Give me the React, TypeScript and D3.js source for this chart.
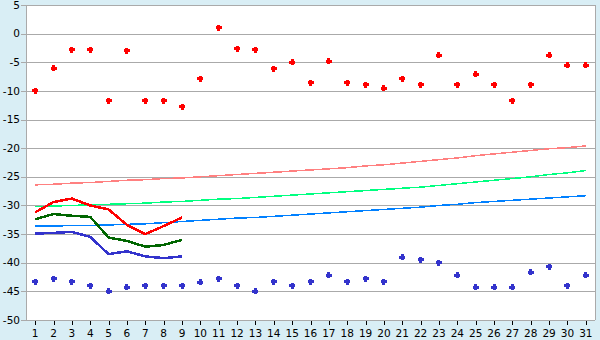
import React from "react";
import * as d3 from "d3";

const days = d3.range(1, 32).map(String);
const yTicks = [5, 0, -5, -10, -15, -20, -25, -30, -35, -40, -45, -50];

const redPoints = [-10, -6.0, -2.8, -2.8, -11.7, -3.0, -11.7, -11.7, -12.8, -7.9, 1.0, -2.6, -2.8, -6.1, -5.0, -8.6, -4.8, -8.6, -8.9, -9.5, -7.9, -8.9, -3.8, -8.9, -7.1, -8.9, -11.7, -8.9, -3.8, -5.5, -5.5];
const bluePoints = [-43.3, -42.8, -43.3, -44.0, -45.0, -44.3, -44.0, -44.0, -44.0, -43.4, -42.8, -44.0, -45.0, -43.3, -44.0, -43.3, -42.2, -43.3, -42.8, -43.3, -39.0, -39.5, -40.0, -42.2, -44.3, -44.3, -44.3, -41.7, -40.7, -44.0, -42.2];

const pinkLine = [-26.4, -26.3, -26.1, -26.0, -25.8, -25.6, -25.5, -25.3, -25.2, -25.0, -24.8, -24.6, -24.4, -24.2, -24.0, -23.8, -23.6, -23.4, -23.1, -22.9, -22.6, -22.3, -22.0, -21.7, -21.3, -21.0, -20.7, -20.4, -20.1, -19.9, -19.6];
const lightGreenLine = [-30.2, -30.1, -30.0, -29.9, -29.8, -29.7, -29.6, -29.4, -29.3, -29.1, -28.9, -28.8, -28.6, -28.4, -28.2, -28.0, -27.8, -27.6, -27.4, -27.2, -27.0, -26.8, -26.5, -26.2, -25.9, -25.6, -25.3, -25.0, -24.6, -24.3, -23.9];
const lightBlueLine = [-33.6, -33.6, -33.5, -33.5, -33.4, -33.3, -33.2, -33.0, -32.8, -32.6, -32.4, -32.2, -32.1, -31.9, -31.7, -31.5, -31.3, -31.1, -30.9, -30.7, -30.5, -30.3, -30.0, -29.8, -29.5, -29.3, -29.1, -28.9, -28.7, -28.5, -28.3];

const redLine = [-31.2, -29.4, -28.8, -30.0, -30.7, -33.4, -35.0, -33.6, -32.1];
const darkGreenLine = [-32.4, -31.5, -31.8, -32.0, -35.6, -36.2, -37.2, -36.9, -36.0];
const darkBlueLine = [-34.9, -34.8, -34.6, -35.5, -38.5, -38.0, -38.9, -39.2, -38.9];

const W = 600;
const H = 340;
const left = 26;
const right = 595;
const top = 5;
const bottom = 320;

export default function App() {
  const x = d3.scaleBand<string>().domain(days).range([left, right]).padding(0);
  const y = d3.scaleLinear().domain([-50, 5]).range([bottom, top]);
  const cx = (i: number) => (x(days[i]) as number) + x.bandwidth() / 2;

  const line = d3
    .line<number>()
    .x((_, i) => cx(i))
    .y((d) => y(d));

  const plus = (px: number, py: number) => {
    const a = 1.5;
    const b = 3;
    return `M${px - a},${py - b}H${px + a}V${py - a}H${px + b}V${py + a}H${px + a}V${py + b}H${px - a}V${py + a}H${px - b}V${py - a}H${px - a}Z`;
  };

  const font = "'DejaVu Sans', Verdana, sans-serif";

  return (
    <svg
      width={W}
      height={H}
      style={{ position: "absolute", left: 0, top: 0, display: "block" }}
      fontFamily={font}
    >
      <rect x={0} y={0} width={W} height={H} fill="#d9eef5" />
      <rect x={left} y={top} width={right - left} height={bottom - top} fill="#ffffff" />
      {yTicks.map((t) => (
        <g key={t} shapeRendering="crispEdges">
          <line x1={left - 5} x2={right} y1={Math.round(y(t)) + 0.5} y2={Math.round(y(t)) + 0.5} stroke="#aaaaaa" strokeWidth={1} />
          <text x={20} y={y(t)} dy="0.35em" textAnchor="end" fontSize={10.5} fill="#000">
            {String(t)}
          </text>
        </g>
      ))}
      <line x1={left + 0.5} x2={left + 0.5} y1={top} y2={bottom} stroke="#aaaaaa" shapeRendering="crispEdges" />
      <line x1={right + 0.5} x2={right + 0.5} y1={top} y2={bottom} stroke="#aaaaaa" shapeRendering="crispEdges" />
      {days.map((d, i) => (
        <g key={d}>
          <line
            x1={Math.round(cx(i)) + 0.5}
            x2={Math.round(cx(i)) + 0.5}
            y1={bottom}
            y2={bottom + 5}
            stroke="#000"
            shapeRendering="crispEdges"
          />
          <text x={cx(i)} y={333} dy="0.35em" textAnchor="middle" fontSize={10.5} fill="#000">
            {d}
          </text>
        </g>
      ))}
      <line x1={left} x2={right} y1={bottom + 0.5} y2={bottom + 0.5} stroke="#aaaaaa" shapeRendering="crispEdges" />

      <path d={line(pinkLine) || ""} fill="none" stroke="#ff8080" strokeWidth={1.5} shapeRendering="crispEdges" />
      <path d={line(lightGreenLine) || ""} fill="none" stroke="#00ff80" strokeWidth={1.5} shapeRendering="crispEdges" />
      <path d={line(lightBlueLine) || ""} fill="none" stroke="#0080ff" strokeWidth={1.5} shapeRendering="crispEdges" />

      <path d={line(darkBlueLine) || ""} fill="none" stroke="#3333cc" strokeWidth={2.5} shapeRendering="crispEdges" />
      <path d={line(darkGreenLine) || ""} fill="none" stroke="#006600" strokeWidth={2.5} shapeRendering="crispEdges" />
      <path d={line(redLine) || ""} fill="none" stroke="#ff0000" strokeWidth={2.5} shapeRendering="crispEdges" />

      {redPoints.map((v, i) => (
        <path key={"r" + i} d={plus(cx(i), y(v))} fill="#ff0000" shapeRendering="crispEdges" />
      ))}
      {bluePoints.map((v, i) => (
        <path key={"b" + i} d={plus(cx(i), y(v))} fill="#3333cc" shapeRendering="crispEdges" />
      ))}
    </svg>
  );
}
